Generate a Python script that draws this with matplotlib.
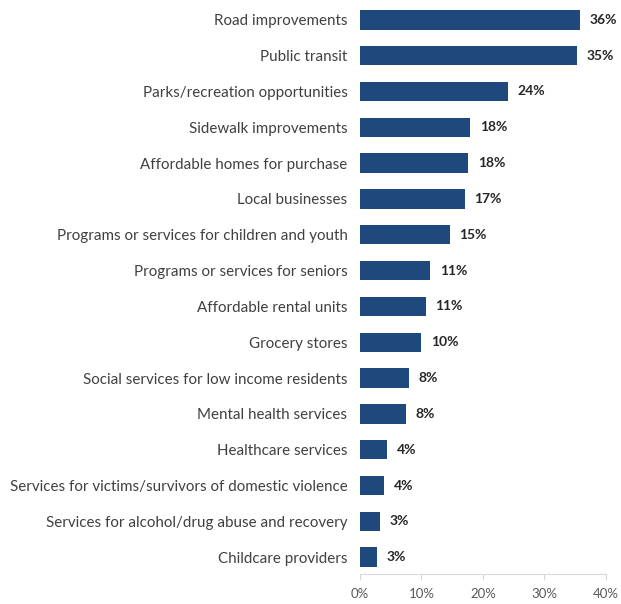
import matplotlib.pyplot as plt
from matplotlib.ticker import FuncFormatter

categories = [
    "Road improvements",
    "Public transit",
    "Parks/recreation opportunities",
    "Sidewalk improvements",
    "Affordable homes for purchase",
    "Local businesses",
    "Programs or services for children and youth",
    "Programs or services for seniors",
    "Affordable rental units",
    "Grocery stores",
    "Social services for low income residents",
    "Mental health services",
    "Healthcare services",
    "Services for victims/survivors of domestic violence",
    "Services for alcohol/drug abuse and recovery",
    "Childcare providers",
]
# bar lengths (percent)
values = [35.8, 35.3, 24.0, 17.9, 17.6, 17.0, 14.6, 11.4, 10.7, 9.9, 8.0, 7.5, 4.4, 3.9, 3.3, 2.7]
# labels as printed on the chart
labels = ["36%", "35%", "24%", "18%", "18%", "17%", "15%", "11%", "11%", "10%", "8%", "8%", "4%", "4%", "3%", "3%"]
xticks = [0, 10, 20, 30, 40]

plt.rcParams['font.family'] = ['Lato', 'DejaVu Sans']

fig = plt.figure(figsize=(6.21, 6.04), dpi=100)
ax = fig.add_axes([0.5797, 0.0497, 0.3961, 0.9453])

ypos = list(range(len(categories)))
ax.barh(ypos, values, height=0.54, color='#1f497d')

for y, v, lab in zip(ypos, values, labels):
    ax.annotate(lab, (v, y), xytext=(7, 0), textcoords='offset points',
                va='center', ha='left', fontsize=10, fontweight='bold', color='#262626')

ax.set_yticks(ypos)
ax.set_yticklabels(categories, fontsize=10.9, color='#404040')
ax.set_ylim(len(categories) - 0.53, -0.47)
ax.set_xlim(0, 40)
ax.set_xticks(xticks)
ax.xaxis.set_major_formatter(FuncFormatter(lambda x, p: f"{x:.0f}%"))

for s in ['top', 'right', 'left']:
    ax.spines[s].set_visible(False)
ax.spines['bottom'].set_color('#d9d9d9')
ax.tick_params(axis='y', length=0, pad=9)
ax.tick_params(axis='x', colors='#d9d9d9', labelcolor='#595959', labelsize=9.5, length=4, pad=6)

fig.savefig('out.png', dpi=100)
